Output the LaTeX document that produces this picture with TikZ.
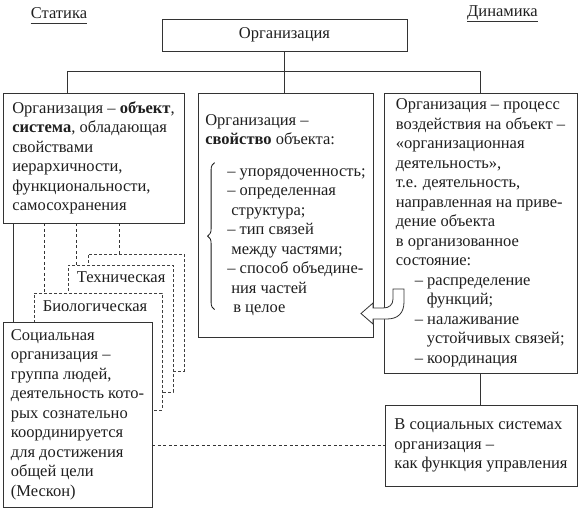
\documentclass[tikz,border=0pt]{standalone}
\usepackage{fontspec}
\setmainfont{Liberation Serif}
\usetikzlibrary{positioning,calc,decorations.pathreplacing}

\begin{document}
\begin{tikzpicture}[
    x=1pt, y=-1pt,
    every node/.style={font=\fontsize{16.5}{19.5}\selectfont, text=black!88},
    concept/.style={
        draw=black!80,
        line width=0.8pt,
        fill=white,
        align=left,
        inner sep=0pt,
    },
    ghostbox/.style={
        draw=black!75,
        line width=0.7pt,
        dash pattern=on 3pt off 2pt,
        fill=white,
    },
    heading/.style={inner sep=0pt},
    line/.style={draw=black!80, line width=0.8pt},
    dashline/.style={line, line width=0.7pt, dash pattern=on 3pt off 2.5pt},
    curly/.style={draw=black!90, line width=0.8pt, decorate,
        decoration={brace, amplitude=7pt}},
]
\useasboundingbox (0,0) rectangle (584,514);

% Headings
\node[heading] (statika) at (59,13) {Статика};
\node[heading] (dinamika) at (502.5,13) {Динамика};
\draw[line] ([yshift=-5pt]statika.base west) -- ([yshift=-5pt]statika.base east);
\draw[line] ([yshift=-5pt]dinamika.base west) -- ([yshift=-5pt]dinamika.base east);

% Root
\node[concept, minimum width=245pt, minimum height=32pt] (org) at (284.5,35) {Организация};

% Three views
\node[concept, minimum width=181pt, minimum height=130pt] (stat) at (93.5,158) {
    Организация – \textbf{объект},\\
    \textbf{система}, обладающая\\
    свойствами\\
    иерархичности,\\
    функциональности,\\
    самосохранения};

\node[concept, minimum width=175pt, minimum height=244pt] (prop) at (285.5,215) {
    Организация –\\
    \textbf{свойство} объекта:\\[12pt]
    \hspace*{22pt}– упорядоченность;\\
    \hspace*{22pt}– определенная\\
    \hspace*{26pt}структура;\\
    \hspace*{22pt}– тип связей\\
    \hspace*{26pt}между частями;\\
    \hspace*{22pt}– способ объедине-\\
    \hspace*{26pt}ния частей\\
    \hspace*{28pt}в целое};
\coordinate (bracetop) at ([xshift=17pt,yshift=-70pt]prop.north west);
\coordinate (bracebot) at ([xshift=17pt,yshift=-217pt]prop.north west);
\draw[curly] (bracebot) -- (bracetop);

\node[concept, minimum width=193pt, minimum height=280pt] (proc) at (480.5,233) {
    Организация – процесс\\
    воздействия на объект –\\
    «организационная\\
    деятельность»,\\
    т.е. деятельность,\\
    направленная на приве-\\
    дение объекта\\
    в организованное\\
    состояние:\\
    \hspace*{19pt}– распределение\\
    \hspace*{31pt}функций;\\
    \hspace*{19pt}– налаживание\\
    \hspace*{31pt}устойчивых связей;\\
    \hspace*{19pt}– координация};

\node[concept, minimum width=192pt, minimum height=81pt] (mgmt) at (481,445.5) {
    В социальных системах\\
    организация –\\
    как функция управления};

% Connectors from the root
\coordinate (statin) at ($(stat.north west)!0.354!(stat.north east)$);
\draw[line] (org.south) -- (org.south |- prop.north);
\draw[line] (statin) -- ++(0,-21) -| (proc.north);
\draw[line] (proc.south) -- (proc.south |- mgmt.north);

% Kinds of organisation
\coordinate (drop1) at ([xshift=11pt]stat.south west);
\coordinate (drop2) at ([xshift=42pt]stat.south west);
\coordinate (drop3) at ([xshift=74pt]stat.south west);
\coordinate (drop4) at ([xshift=117pt]stat.south west);

\node[ghostbox, minimum width=96pt, minimum height=117pt] (other) at (136,312.5) {};
\node[ghostbox, minimum width=105pt, minimum height=127pt] (tech) at (120.5,328.5) {};
\node[ghostbox, minimum width=128pt, minimum height=117pt] (bio) at (98,351.5) {};
\node[anchor=west, inner sep=0pt] (techname) at ([xshift=9pt,yshift=-13pt]tech.north west) {Техническая};
\node[anchor=west, inner sep=0pt] (bioname) at ([xshift=9pt,yshift=-14pt]bio.north west) {Биологическая};

\node[concept, minimum width=149pt, minimum height=185pt] (social) at (77.5,414.5) {
    Социальная\\
    организация –\\
    группа людей,\\
    деятельность кото-\\
    рых сознательно\\
    координируется\\
    для достижения\\
    общей цели\\
    (Мескон)};

\draw[line] (drop1) -- (drop1 |- social.north);
\draw[dashline] (drop2) -- (drop2 |- bio.north);
\draw[dashline] (drop3) -- (drop3 |- tech.north);
\draw[dashline] (drop4) -- (drop4 |- other.north);
\draw[dashline] (social.east |- mgmt.west) -- (mgmt.west);

% Hook arrow from process to property
\draw[line, fill=white] (393,289) -- (404,289) -- (404,302)
    .. controls (404,313) and (398,319) .. (387,319) -- (373,319) -- (373,324)
    -- (361,313.5) -- (373,303) -- (373,308) -- (383,308)
    .. controls (389,308) and (393,305) .. (393,299) -- cycle;

\end{tikzpicture}
\end{document}
